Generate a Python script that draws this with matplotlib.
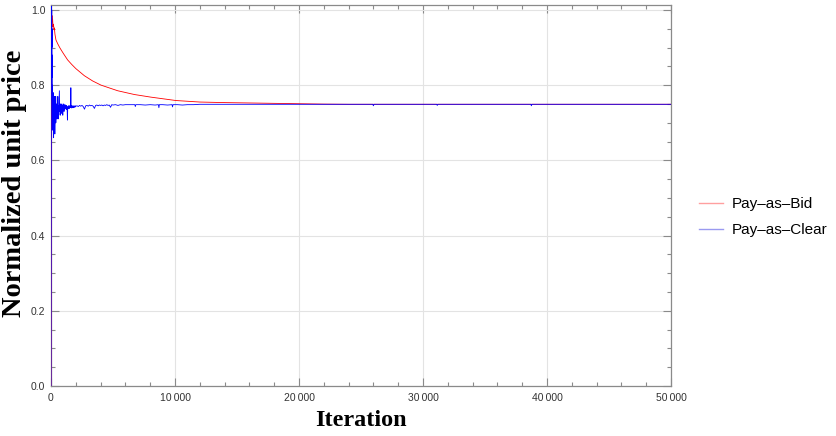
import matplotlib
matplotlib.use("Agg")
import matplotlib.pyplot as plt
from matplotlib.ticker import MultipleLocator, FixedLocator, FuncFormatter
from matplotlib.lines import Line2D

# ---------------- data ----------------
pab_iter = [0, 20, 50, 80, 100, 130, 160, 200, 240, 270, 320, 400, 540, 700, 810,
            1000, 1340, 1670, 2000, 2690, 3360, 4030, 5380, 6720, 8060, 10080,
            12000, 14000, 16000, 18000, 20000, 22000, 24000, 30000, 40000, 50000]
pab_price = [0.0, 0.55, 0.93, 0.985, 0.97, 0.975, 0.955, 0.962, 0.948, 0.952, 0.935, 0.92,
             0.91, 0.90, 0.894, 0.884, 0.867, 0.855, 0.844, 0.825, 0.811, 0.800, 0.785,
             0.775, 0.768, 0.759, 0.755, 0.7535, 0.7525, 0.7515, 0.7505, 0.7495, 0.749,
             0.749, 0.749, 0.749]

pac_iter = [0, 10, 20, 30, 40, 50, 60, 70, 80, 90, 100, 110, 120, 130, 140, 150, 160, 170,
            180, 190, 200, 210, 220, 230, 240, 250, 260, 270, 280, 290, 300, 310, 320, 330,
            340, 350, 360, 370, 380, 390, 400,
            425, 450, 475, 500, 525, 550, 575, 600, 625, 650, 675, 700, 725, 750, 775, 800,
            825, 850, 875, 900, 925, 950, 975, 1000, 1025, 1050, 1075, 1100, 1125, 1150,
            1175, 1200, 1225, 1250, 1275, 1300, 1325, 1350, 1375, 1400, 1425, 1450, 1475,
            1500, 1525, 1550, 1575, 1600, 1625, 1650, 1675, 1700, 1725, 1750, 1775, 1800,
            1825, 1850, 1875, 1900, 1925, 1950, 1975, 2000,
            2100, 2200, 2300, 2400, 2500, 2600, 2700, 2800, 2900, 3000, 3100, 3200, 3300,
            3400, 3500, 3600, 3700, 3800, 3900, 4000, 4100, 4200, 4300, 4400, 4500, 4600,
            4700, 4800, 4900, 5000, 5200, 5400, 5600, 5800, 6000,
            6400, 6760, 6800, 6840, 7200, 7600, 8000, 8400, 8660, 8700, 8740, 9000, 9400,
            9760, 9800, 9840, 10200, 10600, 11000, 11500, 12000, 14000, 16000, 18000,
            20000, 22000, 24000, 25950, 26000, 26050, 29000, 31100, 31150, 31200, 34000,
            36000, 38700, 38740, 38780, 42000, 45000, 48000, 50000]
pac_price = [0.00, 0.30, 0.75, 0.98, 1.01, 0.96, 1.00, 0.90, 0.95, 0.82, 0.88, 0.76, 0.80,
             0.70, 0.77, 0.68, 0.74, 0.72, 0.78, 0.69, 0.75, 0.66, 0.73, 0.70, 0.76, 0.68,
             0.74, 0.71, 0.77, 0.69, 0.73, 0.67, 0.75, 0.71, 0.76, 0.70, 0.74, 0.72, 0.77,
             0.70, 0.74,
             0.72, 0.75, 0.71, 0.74, 0.73, 0.77, 0.71, 0.745, 0.72, 0.75, 0.785, 0.73, 0.745,
             0.72, 0.75, 0.73, 0.745, 0.725, 0.75, 0.735, 0.745, 0.72, 0.745, 0.735, 0.75,
             0.73, 0.745, 0.735, 0.748, 0.737, 0.745, 0.738, 0.746, 0.735, 0.744, 0.74,
             0.707, 0.742, 0.738, 0.745, 0.739, 0.744, 0.738, 0.745, 0.74, 0.743, 0.74,
             0.793, 0.742, 0.745, 0.739, 0.744, 0.741, 0.745, 0.742, 0.744, 0.74, 0.745,
             0.742, 0.744, 0.741, 0.745, 0.743, 0.744,
             0.745, 0.743, 0.746, 0.744, 0.746, 0.743, 0.736, 0.745, 0.746, 0.744, 0.747,
             0.745, 0.746, 0.744, 0.738, 0.746, 0.747, 0.745, 0.747, 0.746, 0.747, 0.745,
             0.747, 0.746, 0.748, 0.746, 0.747, 0.741, 0.748, 0.747, 0.748, 0.746, 0.748,
             0.747, 0.748,
             0.748, 0.748, 0.743, 0.748, 0.748, 0.747, 0.748, 0.747, 0.748, 0.740, 0.748,
             0.748, 0.747, 0.748, 0.742, 0.748, 0.748, 0.747, 0.748, 0.748, 0.749, 0.749,
             0.749, 0.749, 0.749, 0.749, 0.749, 0.749, 0.745, 0.749, 0.749, 0.749, 0.746,
             0.749, 0.749, 0.749, 0.749, 0.745, 0.749, 0.749, 0.749, 0.749, 0.749]

series_names = ["Pay\u2013as\u2013Bid", "Pay\u2013as\u2013Clear"]
x_label = "Iteration"
y_label = "Normalized unit price"

# ---------------- figure ----------------
fig = plt.figure(figsize=(8.37, 4.36), dpi=100)
ax = fig.add_axes([51 / 837, 50 / 436, 620 / 837, 381 / 436])

ax.plot(pab_iter, pab_price, color=(1, 0, 0), lw=0.6, zorder=3)
ax.plot(pac_iter, pac_price, color=(0, 0, 1), lw=0.6, zorder=4)

ax.set_xlim(0, 50000)
ax.set_ylim(0, 1.013)

frame_col = "#8a8a8a"
for s in ax.spines.values():
    s.set_color(frame_col)
    s.set_linewidth(0.9)

ax.xaxis.set_major_locator(MultipleLocator(10000))
ax.xaxis.set_minor_locator(MultipleLocator(2000))
ax.yaxis.set_major_locator(FixedLocator([0, 0.2, 0.4, 0.6, 0.8, 1.0]))
ax.yaxis.set_minor_locator(MultipleLocator(0.05))

def xfmt(v, pos):
    v = int(round(v))
    if v == 0:
        return "0"
    return f"{v // 1000}\u2009{v % 1000:03d}"

ax.xaxis.set_major_formatter(FuncFormatter(xfmt))
ax.yaxis.set_major_formatter(FuncFormatter(lambda v, p: f"{v:.1f}"))

ax.tick_params(which="both", direction="in", top=True, right=True, color=frame_col,
               width=0.8)
ax.tick_params(which="major", length=5.5, labelsize=7.5, labelcolor="#333333")
ax.tick_params(which="minor", length=3)
ax.tick_params(axis="x", which="major", pad=5)
ax.tick_params(axis="y", which="major", pad=4)
for lab in ax.get_xticklabels() + ax.get_yticklabels():
    lab.set_family(["Liberation Sans", "DejaVu Sans"])

ax.grid(True, which="major", color="#e3e3e3", lw=0.8, zorder=0)
ax.set_axisbelow(True)

fig.text(361 / 837, 1 - 420 / 436, x_label, ha="center", va="center",
         fontsize=17.5, fontweight="bold", family="Liberation Serif")
fig.text(15 / 837, 1 - 183 / 436, y_label, ha="center", va="center", rotation=90,
         fontsize=20.5, fontweight="bold", family="Liberation Serif")

handles = [Line2D([], [], color="#ff9f9f", lw=1.0),
           Line2D([], [], color="#9a9af0", lw=1.0)]
fig.legend(handles, series_names, loc="center left",
           bbox_to_anchor=(699 / 837, 1 - 217 / 436), frameon=False,
           borderpad=0, borderaxespad=0, handlelength=1.55, handletextpad=0.6,
           labelspacing=0.8, prop={"family": "Liberation Sans", "size": 11})

fig.savefig("out.png", dpi=100)
